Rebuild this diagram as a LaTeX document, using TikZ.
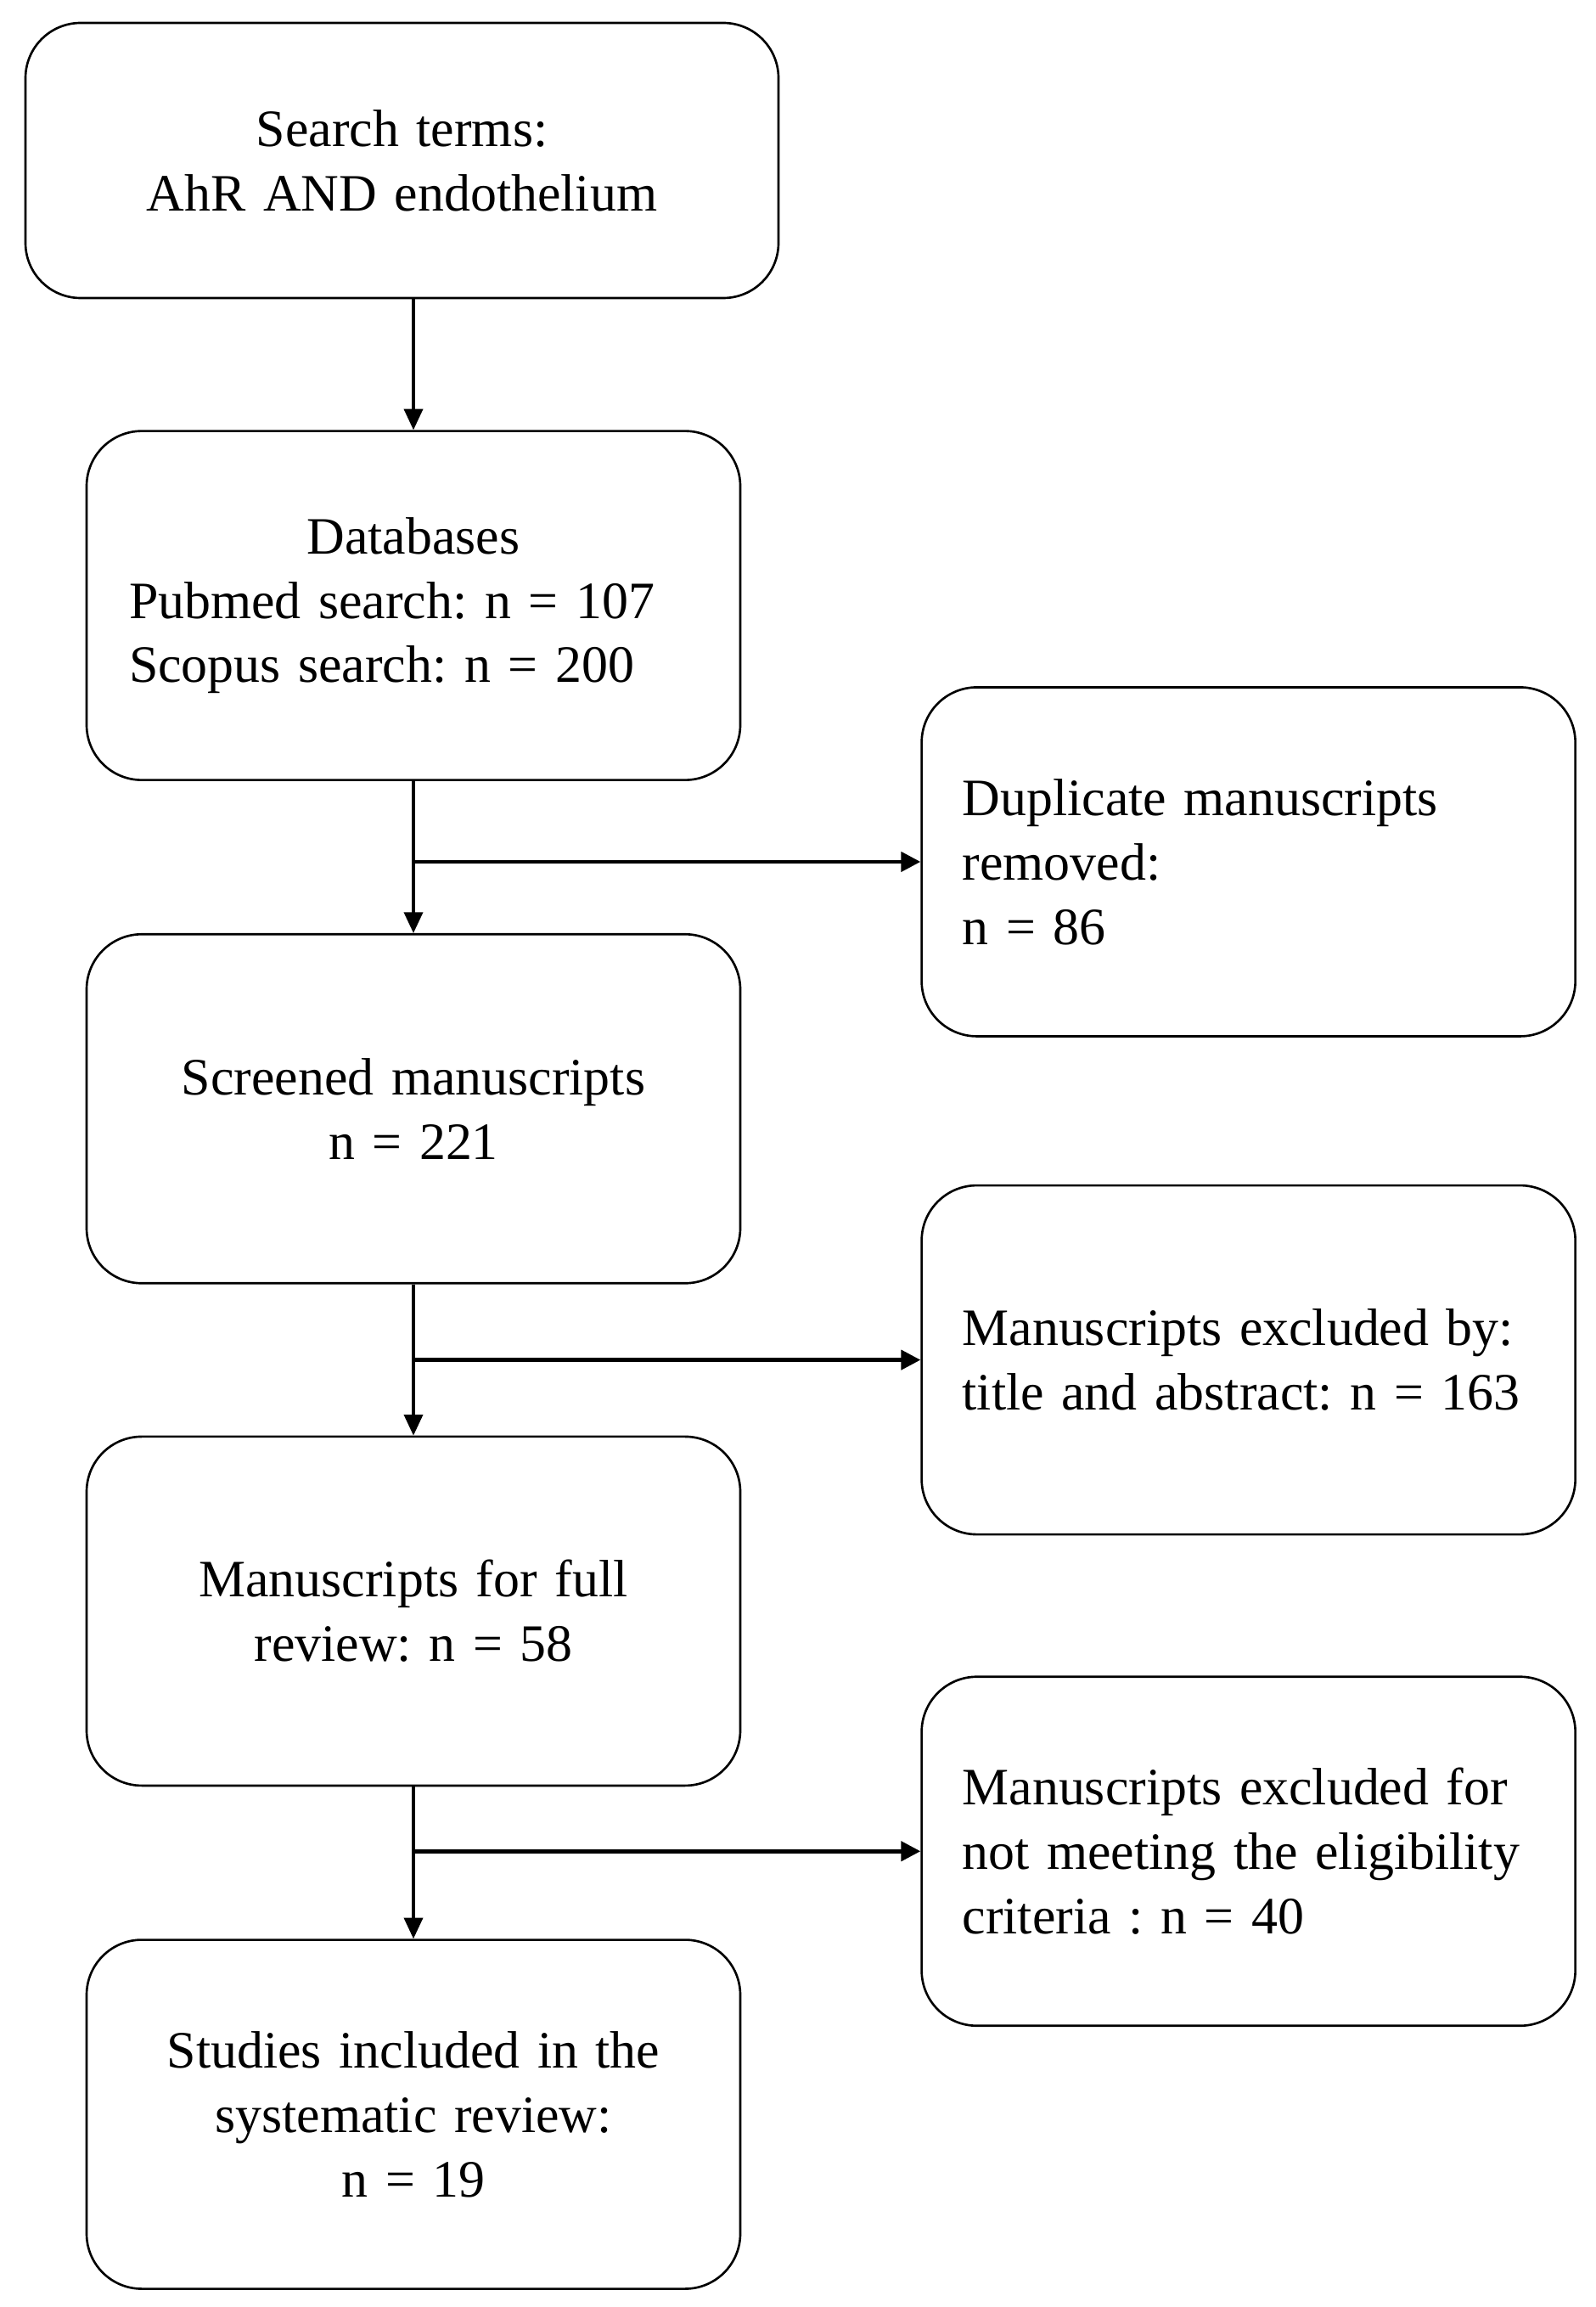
\documentclass[tikz,border=0pt]{standalone}
\usepackage{fontspec}
\setmainfont{Liberation Serif}
\usetikzlibrary{arrows.meta, positioning}

\begin{document}
\begin{tikzpicture}[
  node distance=17.9mm, every node/.style={font=\fontsize{17.6pt}{21.6pt}\selectfont\frenchspacing},
  box/.style={rounded corners=6.5mm, draw, line width=0.75pt, inner xsep=5mm, inner ysep=2mm,
    minimum width=77mm, minimum height=41.1mm, text width=67mm, align=center},
  sidebox/.style={box, align=left, inner xsep=4.8mm, text width=67.4mm},
  down/.style={-{Triangle[length=7pt, width=6.3pt]}, line width=0.9pt},
  side/.style={-{Triangle[length=6.5pt, width=6.5pt]}, line width=1.3pt}
]
\useasboundingbox (0,0) rectangle (188mm,-271.7mm);
\node[box, minimum width=88.7mm, minimum height=32.4mm, text width=78.7mm] (search) at (47.35mm,-18.9mm) {Search terms:\\ AhR AND endothelium};
\node[box, align=left, below=15.4mm of search, xshift=1.35mm] (db) {{\centering Databases\par}Pubmed search: n = 107\\ Scopus search: n = 200};
\node[box, below=of db] (screen) {Screened manuscripts\\ n = 221};
\node[box, below=17.8mm of screen] (full) {Manuscripts for full\\ review: n = 58};
\node[box, below=of full] (incl) {Studies included in the\\ systematic review:\\ n = 19};
% side boxes
\node[sidebox, right=21.1mm of db.south east, yshift=-9.5mm] (dup) {Duplicate manuscripts\\ removed:\\ n = 86};
\node[sidebox, right=21.1mm of screen.south east, yshift=-8.9mm] (excl) {Manuscripts excluded by:\\ title and abstract: n = 163};
\node[sidebox, right=21.1mm of full.south east, yshift=-7.6mm] (elig) {Manuscripts excluded for\\ not meeting the eligibility\\ criteria : n = 40};
\draw[down] (db.north |- search.south) -- (db.north);
\draw[down] (db) -- (screen);
\draw[down] (screen) -- (full);
\draw[down] (full) -- (incl);
\draw[side] (db.south |- dup.west) -- (dup.west);
\draw[side] (screen.south |- excl.west) -- (excl.west);
\draw[side] (full.south |- elig.west) -- (elig.west);
\end{tikzpicture}
\end{document}
